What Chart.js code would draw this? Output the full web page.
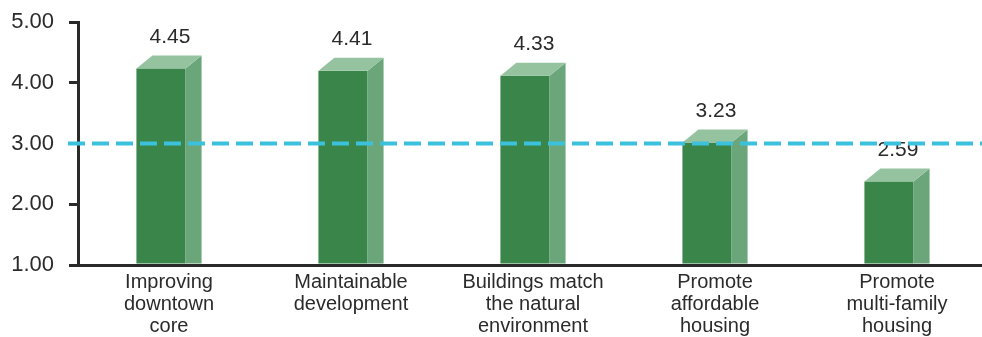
<!DOCTYPE html>
<html>
<head>
<meta charset="utf-8">
<script src="https://cdn.jsdelivr.net/npm/chart.js@4.4.1/dist/chart.umd.min.js"></script>
<style>
  html, body { margin: 0; padding: 0; background: #fff; overflow: hidden; }
  #wrap { width: 990px; height: 337px; position: relative; }
</style>
</head>
<body>
<div id="wrap"><canvas id="chart"></canvas></div>
<script>
// data
const categories = [
    ["Improving", "downtown", "core"],
    ["Maintainable", "development"],
    ["Buildings match", "the natural", "environment"],
    ["Promote", "affordable", "housing"],
    ["Promote", "multi-family", "housing"]
];
const scores = [4.45, 4.41, 4.33, 3.23, 2.59];
const yTicks = [1, 2, 3, 4, 5];
const referenceLine = 3.00;

const FONT = '"Liberation Sans", Arial, sans-serif';
const TEXT = '#2b2b2b';
const AXIS = '#2a2a2a';
const DEPTH_X = 16, DEPTH_Y = 13;

// draws the boxes in 3D on top of the (invisible) chart.js bars
const bars3d = {
    id: 'bars3d',
    afterDatasetsDraw(chart) {
        const ctx = chart.ctx;
        const meta = chart.getDatasetMeta(0);
        ctx.save();
        meta.data.forEach((bar, i) => {
            const left = bar.x - bar.width / 2;
            const right = bar.x + bar.width / 2;
            const fr = right - DEPTH_X;
            const top = bar.y;
            const topFront = top + DEPTH_Y;
            const base = bar.base;

            ctx.fillStyle = '#3a854a';
            ctx.fillRect(left, topFront, fr - left, base - topFront);

            ctx.fillStyle = '#6aa679';
            ctx.beginPath();
            ctx.moveTo(fr, topFront);
            ctx.lineTo(right, top);
            ctx.lineTo(right, base);
            ctx.lineTo(fr, base);
            ctx.closePath();
            ctx.fill();

            ctx.fillStyle = '#95c3a0';
            ctx.beginPath();
            ctx.moveTo(left, topFront);
            ctx.lineTo(left + DEPTH_X, top);
            ctx.lineTo(right, top);
            ctx.lineTo(fr, topFront);
            ctx.closePath();
            ctx.fill();

            ctx.fillStyle = TEXT;
            ctx.font = '21px ' + FONT;
            ctx.textAlign = 'center';
            ctx.textBaseline = 'bottom';
            ctx.fillText(scores[i].toFixed(2), bar.x + 1, top - 8);
        });
        ctx.restore();
    },
    afterDraw(chart) {
        const ctx = chart.ctx;
        const y = chart.scales.y.getPixelForValue(referenceLine);
        ctx.save();
        ctx.strokeStyle = '#3cc1dd';
        ctx.lineWidth = 4;
        ctx.setLineDash([17, 7]);
        ctx.beginPath();
        ctx.moveTo(chart.chartArea.left - 10, y);
        ctx.lineTo(chart.width, y);
        ctx.stroke();
        ctx.restore();
    }
};

new Chart(document.getElementById('chart'), {
    type: 'bar',
    data: {
        labels: categories,
        datasets: [{
            data: scores,
            base: 1,
            backgroundColor: 'rgba(0,0,0,0)',
            borderWidth: 0,
            barPercentage: 0.358,
            categoryPercentage: 1
        }]
    },
    options: {
        responsive: true,
        maintainAspectRatio: false,
        animation: false,
        layout: { padding: { top: 22, right: 2, left: 0, bottom: 0 } },
        plugins: {
            legend: { display: false },
            tooltip: { enabled: false }
        },
        scales: {
            x: {
                z: 1,
                grid: { display: false, drawTicks: false },
                border: { display: true, color: AXIS, width: 3 },
                ticks: {
                    color: TEXT,
                    font: { family: FONT, size: 20, lineHeight: '22px' },
                    padding: 6,
                    maxRotation: 0,
                    autoSkip: false
                },
                afterFit(scale) { scale.height = 72; }
            },
            y: {
                z: 1,
                min: 1,
                max: 5,
                afterBuildTicks(scale) { scale.ticks = yTicks.map(v => ({ value: v })); },
                grid: { drawOnChartArea: false, drawTicks: true, tickLength: 9, lineWidth: 3, color: AXIS },
                border: { display: true, color: AXIS, width: 3 },
                ticks: {
                    color: TEXT,
                    font: { family: FONT, size: 22 },
                    padding: 15,
                    callback: v => Number(v).toFixed(2)
                },
                afterFit(scale) {
                    scale.width = 78;
                    scale.paddingTop = 0;
                    scale.paddingBottom = 0;
                }
            }
        }
    },
    plugins: [bars3d]
});
</script>
</body>
</html>
